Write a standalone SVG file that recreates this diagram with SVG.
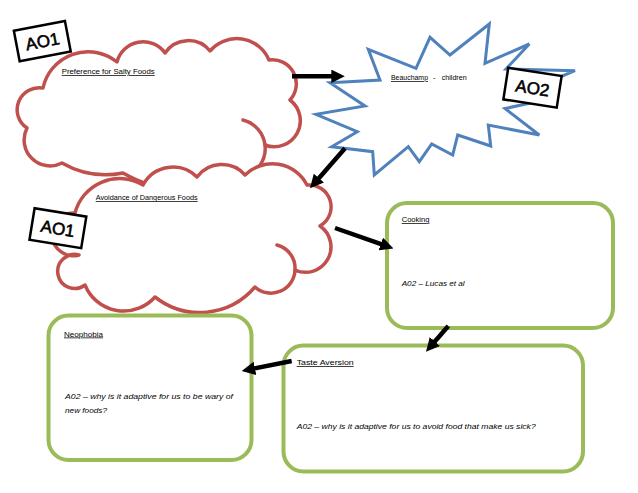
<svg xmlns="http://www.w3.org/2000/svg" width="638" height="493" viewBox="0 0 638 493">
<defs>
<style>
.cloud{fill:#fff;stroke:#C0504D;stroke-width:3.5;stroke-linejoin:round}
.inner{fill:none;stroke:#C0504D;stroke-width:3.5;stroke-linecap:round}
.star{fill:#fff;stroke:#4F81BD;stroke-width:3;stroke-linejoin:miter}
.box{fill:#fff;stroke:#9BBB59;stroke-width:4}
.tag{fill:#fff;stroke:#000;stroke-width:2.5}
.tagt{font-family:"Liberation Sans",Arial,sans-serif;font-size:17px;fill:#000;stroke:#000;stroke-width:0.6;text-anchor:middle}
.t{font-family:"Liberation Sans",Arial,sans-serif;font-size:7.5px;fill:#000}
.u{text-decoration:underline}
.i{font-style:italic}
.conn{stroke:#000;stroke-width:4.5;fill:none;marker-end:url(#ah)}
</style>
<marker id="ah" viewBox="0 0 10 10" refX="2" refY="5" markerWidth="3" markerHeight="3" orient="auto" markerUnits="strokeWidth">
<path d="M0,0 L10,5 L0,10 z" fill="#000"/>
</marker>
</defs>
<rect width="638" height="493" fill="#fff"/>

<g id="beauchamp">
<polygon class="star" points="368.3,49.3 416,68.3 430,37.3 450,55 489.3,24 485,63.3 529.3,44 506,69 575,70.7 548,82 540,101 505,108.5 539.3,135 488.3,125 490.7,146 457.7,135 452.7,155 431.7,144 419.3,161.7 408.3,146.7 374.3,175 372.7,151.7 331.7,146.7 357.3,131.7 316,114.3 365,106 330,82.7 380,80"/>
<text class="t u" x="391" y="80" textLength="37" lengthAdjust="spacingAndGlyphs">Beauchamp</text>
<text class="t" x="433" y="80">-</text>
<text class="t" x="441.7" y="80" textLength="25" lengthAdjust="spacingAndGlyphs">children</text>
</g>

<g id="salty">
<path class="cloud" d="M43,88 A46,46 0 0 1 117,62 A27,27 0 0 1 165,53 A28,28 0 0 1 210,51 A35,35 0 0 1 269,60 A24,24 0 0 1 290,100 A26,26 0 0 1 265,145 A29.4,29.4 0 0 1 243,177 A127,127 0 0 1 123,173 A88,88 0 0 1 62,163 A26,26 0 0 1 27,128 A22,22 0 0 1 43,88 Z"/>
<path class="inner" d="M243,120 A29.4,29.4 0 0 1 265,145"/>
<text class="t u" x="61.7" y="74" textLength="93" lengthAdjust="spacingAndGlyphs">Preference for Salty Foods</text>
</g>

<g id="dangerous">
<path class="cloud" d="M75,213 A46,46 0 0 1 143,185 A34,34 0 0 1 197,177 A31,31 0 0 1 245,175 A39,39 0 0 1 307,185 A22,22 0 0 1 320,226 A25.4,25.4 0 0 1 295,270 A24,24 0 0 1 255,287 A72.5,72.5 0 0 1 155,297 A41.8,41.8 0 0 1 85,285 A17,17 0 1 1 79,255 A21.4,21.4 0 1 1 75,213 Z"/>
<path class="inner" d="M277,245 A24,24 0 0 1 295,270"/>
<text class="t u" x="95.7" y="200" textLength="102" lengthAdjust="spacingAndGlyphs">Avoidance of Dangerous Foods</text>
</g>

<g id="ao1-top">
<g transform="translate(42.3,41.1) rotate(-10.8)">
<rect class="tag" x="-26" y="-15.5" width="52" height="31"/>
<text class="tagt" x="0" y="6.2">AO1</text>
</g>
</g>

<g id="ao1-mid">
<g transform="translate(57.9,228.2) rotate(9.2)">
<rect class="tag" x="-26.2" y="-16" width="52.4" height="32"/>
<text class="tagt" x="0" y="6.2">AO1</text>
</g>
</g>

<g id="ao2">
<g transform="translate(532.5,87.7) rotate(8.8)">
<rect class="tag" x="-27" y="-16" width="54" height="32"/>
<text class="tagt" x="0" y="6.2">AO2</text>
</g>
</g>

<g id="cooking">
<rect class="box" x="387" y="203" width="226" height="125" rx="20"/>
<text class="t u" x="401.7" y="222" textLength="27.7" lengthAdjust="spacingAndGlyphs">Cooking</text>
<text class="t i" x="401.7" y="286" textLength="63" lengthAdjust="spacingAndGlyphs">A02 – Lucas et al</text>
</g>

<g id="neophobia">
<rect class="box" x="48.5" y="315.5" width="203" height="144.5" rx="20"/>
<text class="t u" x="64" y="336.5" textLength="39" lengthAdjust="spacingAndGlyphs">Neophobia</text>
<text class="t i" x="65" y="398.5" textLength="168" lengthAdjust="spacingAndGlyphs">A02 – why is it adaptive for us to be wary of</text>
<text class="t i" x="65" y="413" textLength="42" lengthAdjust="spacingAndGlyphs">new foods?</text>
</g>

<g id="taste-aversion">
<rect class="box" x="283.5" y="345.5" width="299.5" height="126" rx="20"/>
<text class="t u" x="296.7" y="365" textLength="57" lengthAdjust="spacingAndGlyphs">Taste Aversion</text>
<text class="t i" x="296.7" y="428.5" textLength="239" lengthAdjust="spacingAndGlyphs">A02 – why is it adaptive for us to avoid food that make us sick?</text>
</g>

<g id="connectors">
<line class="conn" x1="292" y1="76.3" x2="334" y2="76.3"/>
<line class="conn" x1="345" y1="148.3" x2="317.1" y2="180.2"/>
<line class="conn" x1="335" y1="228" x2="383.3" y2="244.9"/>
<line class="conn" x1="448.3" y1="326" x2="433.1" y2="343.5"/>
<line class="conn" x1="291.7" y1="361" x2="252.3" y2="368.9"/>
</g>
</svg>
